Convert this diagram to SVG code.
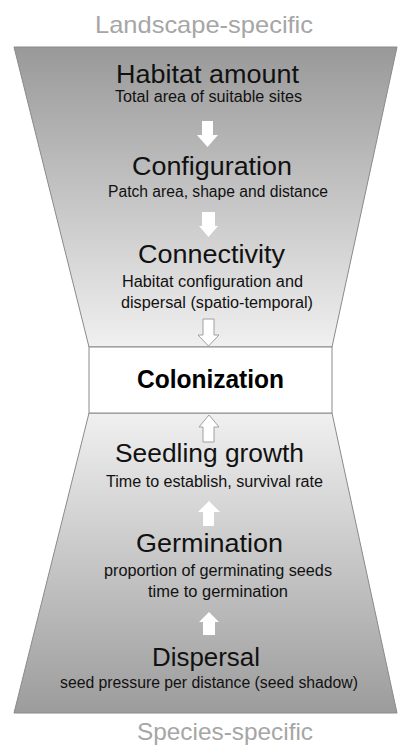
<svg xmlns="http://www.w3.org/2000/svg" width="398" height="745" viewBox="0 0 398 745">
<style>
text{font-family:"Liberation Sans",Arial,sans-serif;text-anchor:middle;fill:#111}
.lbl{font-size:24px;fill:#a6a6a6}
.title{font-size:25px}
.sub{font-size:16px}
.bold{font-size:25px;font-weight:bold;fill:#000}
.shape{stroke:#8a8a8a;stroke-width:1}
.arr{fill:#fff;stroke:none}
.arro{fill:#fff;stroke:#a0a0a0;stroke-width:1}
</style>
<defs>
<linearGradient id="gTop" x1="0" y1="47" x2="0" y2="347" gradientUnits="userSpaceOnUse">
<stop offset="0" stop-color="#999999"/>
<stop offset="1" stop-color="#f0f0f0"/>
</linearGradient>
<linearGradient id="gBot" x1="0" y1="413" x2="0" y2="713" gradientUnits="userSpaceOnUse">
<stop offset="0" stop-color="#f0f0f0"/>
<stop offset="1" stop-color="#9c9c9c"/>
</linearGradient>
</defs>
<g id="background">
<polygon class="shape" points="14,47 397,47 332,347 89,347" fill="url(#gTop)"/>
<polygon class="shape" points="89,413 332,413 397,713 14,713" fill="url(#gBot)"/>
</g>
<g id="label-landscape"><text class="lbl" x="204" y="33" textLength="218" lengthAdjust="spacingAndGlyphs">Landscape-specific</text></g>
<g id="label-species"><text class="lbl" x="225" y="740" textLength="176" lengthAdjust="spacingAndGlyphs">Species-specific</text></g>
<g id="connectors">
<polygon class="arr" points="202,121 213,121 213,135 218,135 207.5,147 197,135 202,135"/>
<polygon class="arr" points="202,212 215,212 215,226 218,226 208.5,237 199,226 202,226"/>
<polygon class="arro" points="203,319 214,319 214,335 219,335 208.5,346 198,335 203,335"/>
<polygon class="arro" points="203,442 214,442 214,427 219,427 209,415 199,427 203,427"/>
<polygon class="arr" points="203,526 214,526 214,512 220,512 209,501 198,512 203,512"/>
<polygon class="arr" points="203,635 215,635 215,622 219,622 209,612 199,622 203,622"/>
</g>
<g id="habitat-amount">
<text class="title" x="207.5" y="83" textLength="183" lengthAdjust="spacingAndGlyphs">Habitat amount</text>
<text class="sub" x="208.5" y="102" textLength="187" lengthAdjust="spacingAndGlyphs">Total area of suitable sites</text>
</g>
<g id="configuration">
<text class="title" x="212" y="175" textLength="160" lengthAdjust="spacingAndGlyphs">Configuration</text>
<text class="sub" x="218" y="197" textLength="220" lengthAdjust="spacingAndGlyphs">Patch area, shape and distance</text>
</g>
<g id="connectivity">
<text class="title" x="211.5" y="263" textLength="147" lengthAdjust="spacingAndGlyphs">Connectivity</text>
<text class="sub" x="212.5" y="287" textLength="181" lengthAdjust="spacingAndGlyphs">Habitat configuration and</text>
<text class="sub" x="217" y="308" textLength="192" lengthAdjust="spacingAndGlyphs">dispersal (spatio-temporal)</text>
</g>
<g id="colonization">
<rect x="89" y="347" width="243" height="66" fill="#fff" stroke="#8a8a8a" stroke-width="1"/>
<text class="bold" x="210.5" y="388" textLength="147" lengthAdjust="spacingAndGlyphs">Colonization</text>
</g>
<g id="seedling-growth">
<text class="title" x="209.5" y="462" textLength="189" lengthAdjust="spacingAndGlyphs">Seedling growth</text>
<text class="sub" x="214.5" y="487" textLength="217" lengthAdjust="spacingAndGlyphs">Time to establish, survival rate</text>
</g>
<g id="germination">
<text class="title" x="209.5" y="552" textLength="147" lengthAdjust="spacingAndGlyphs">Germination</text>
<text class="sub" x="218" y="576" textLength="228" lengthAdjust="spacingAndGlyphs">proportion of germinating seeds</text>
<text class="sub" x="218" y="597" textLength="140" lengthAdjust="spacingAndGlyphs">time to germination</text>
</g>
<g id="dispersal">
<text class="title" x="206" y="666" textLength="108" lengthAdjust="spacingAndGlyphs">Dispersal</text>
<text class="sub" x="209" y="688" textLength="298" lengthAdjust="spacingAndGlyphs">seed pressure per distance (seed shadow)</text>
</g>
</svg>
